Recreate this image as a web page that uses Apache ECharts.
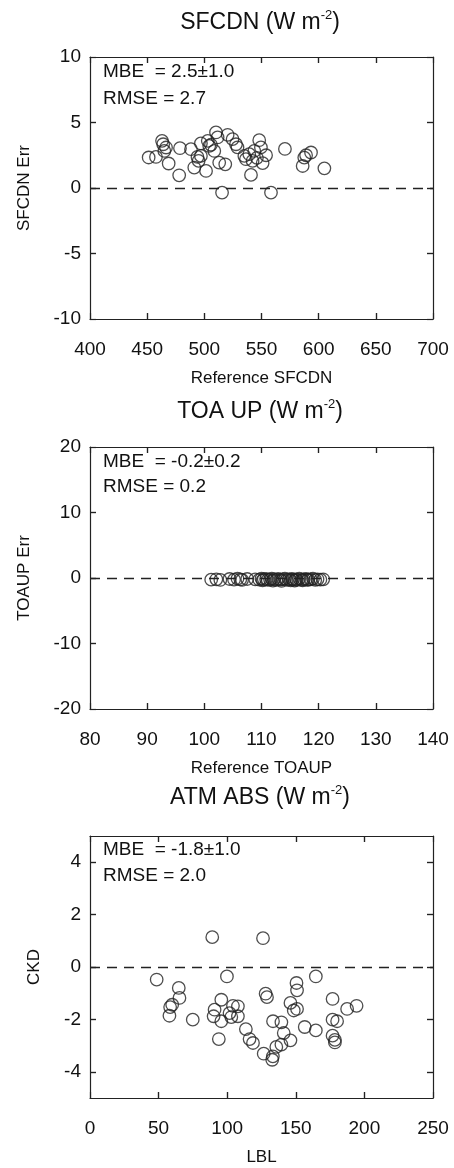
<!DOCTYPE html>
<html>
<head>
<meta charset="utf-8">
<script src="https://cdn.jsdelivr.net/npm/echarts@6/dist/echarts.min.js"></script>
<style>
html,body{margin:0;padding:0;background:#fff;}
#c{width:454px;height:1168px;}
</style>
</head>
<body>
<div id="c"></div>
<script>
// Panel 1: SFCDN
const sfcdnX = [451.3,457.7,463,464,465,466.5,468.8,478.7,478,488.3,491.2,494,495,497,497,501.5,503,504.3,505.8,508.7,510.2,511.6,513,518.3,515.5,520.4,524.7,527.7,529,535,536.4,539.3,540.8,542.2,543.7,546,548,549.5,551,554,558.3,570.5,586,587.4,589,593.3,605];
const sfcdnY = [2.33,2.37,3.6,3.34,2.83,3.09,1.87,3.04,0.97,2.96,1.56,2.37,2.07,2.45,3.4,1.3,3.6,3.21,3.3,2.83,4.24,3.86,1.94,1.81,-0.35,4.06,3.73,3.34,3.1,2.45,2.2,2.58,1.0,2.07,2.83,2.3,3.65,3.1,1.9,2.5,-0.35,2.98,1.68,2.32,2.5,2.71,1.5];
// Panel 2: TOA UP
const toaX = [101.2,102.1,102.8,104.4,105.2,105.8,106.3,106.6,107.5,108.9,109.6,110.0,110.2,110.4,110.8,111.1,111.5,111.8,112.0,112.2,112.6,112.9,113.3,113.5,113.7,114.1,114.4,114.8,115.1,115.3,115.5,115.8,116.0,116.2,116.6,117.0,117.2,117.4,117.8,118.0,118.2,118.6,119.0,119.4,119.8,120.3,120.8];
const toaY = [-0.25,-0.2,-0.3,-0.15,-0.25,-0.1,-0.2,-0.3,-0.15,-0.2,-0.25,-0.1,-0.35,-0.2,-0.15,-0.3,-0.25,-0.1,-0.4,-0.2,-0.3,-0.15,-0.25,-0.45,-0.2,-0.1,-0.3,-0.2,-0.35,-0.15,-0.25,-0.4,-0.2,-0.3,-0.1,-0.25,-0.35,-0.2,-0.15,-0.3,-0.25,-0.2,-0.1,-0.3,-0.2,-0.25,-0.2];
// Panel 3: ATM ABS
const lblX = [89.1,126.1,48.6,99.8,164.6,64.7,65.2,59.9,58.4,57.9,74.9,95.7,90.8,90.1,95.7,101.7,104.2,107.8,103,107.8,93.9,113.6,116.3,118.8,128,129,133.4,139.5,126.6,132.8,133.3,135.8,139.5,141.2,146.1,146.1,150.5,150.9,148.5,150.9,156.5,164.6,176.8,176.8,180.1,176.8,178.5,178.5,187.4,194.3];
const ckdY = [1.14,1.1,-0.48,-0.36,-0.36,-0.8,-1.18,-1.44,-1.53,-1.86,-2.01,-1.25,-1.63,-1.88,-2.07,-1.76,-1.48,-1.5,-1.91,-1.88,-2.75,-2.37,-2.75,-2.9,-1.02,-1.15,-2.07,-2.11,-3.31,-3.54,-3.41,-3.05,-2.96,-2.52,-2.8,-1.37,-0.61,-0.89,-1.66,-1.6,-2.29,-2.42,-1.22,-2.01,-2.07,-2.62,-2.78,-2.88,-1.6,-1.48];

const xTicks1 = [400,700,50], yTicks1 = [-10,10,5];
const xTicks2 = [80,140,10], yTicks2 = [-20,20,10];
const xTicks3 = [0,250,50], yLabels3 = [-4,-2,0,2,4];

const FONT = 'Liberation Sans';
const TXT = '#111';
const AX = '#222';
const TICK_LEN = 6;
const GRID_W = 343, GRID_H = 262;

const panels = [
  {top:57, x:xTicks1, y:yTicks1, xName:'Reference SFCDN', yName:'SFCDN Err', yGap:57,
   title:'SFCDN (W m', tTop:9, mbe:'MBE  = 2.5±1.0', rmse:'RMSE = 2.7', mTop:61, rTop:88,
   xs:sfcdnX, ys:sfcdnY},
  {top:447, x:xTicks2, y:yTicks2, xName:'Reference TOAUP', yName:'TOAUP Err', yGap:57,
   title:'TOA UP (W m', tTop:398, mbe:'MBE  = -0.2±0.2', rmse:'RMSE = 0.2', mTop:451, rTop:476,
   xs:toaX, ys:toaY},
  {top:836, x:xTicks3, y:[-5,5,null], yCustom:yLabels3, xName:'LBL', yName:'CKD', yGap:47,
   title:'ATM ABS (W m', tTop:784, mbe:'MBE  = -1.8±1.0', rmse:'RMSE = 2.0', mTop:839, rTop:865,
   xs:lblX, ys:ckdY}
];

function mkLine(){ return {show:true, onZero:false, lineStyle:{color:AX, width:1.2}}; }
function mkTick(custom){
  const t = {show:true, inside:true, length:TICK_LEN, lineStyle:{color:AX, width:1.2}};
  if (custom) t.customValues = custom;
  return t;
}
function steps(a){ const out=[]; for(let v=a[0]+a[2]; v<a[1]-1e-9; v+=a[2]) out.push(v); return out; }

const grid=[], xAxis=[], yAxis=[], series=[], title=[];
panels.forEach((p,i)=>{
  grid.push({left:90, width:GRID_W, top:p.top, height:GRID_H});
  xAxis.push({type:'value', gridIndex:i, position:'bottom', min:p.x[0], max:p.x[1], interval:p.x[2],
    axisLine:mkLine(), axisTick:mkTick(), splitLine:{show:false},
    axisLabel:{margin:21, color:TXT, fontFamily:FONT, fontSize:19},
    name:p.xName, nameLocation:'middle', nameGap:51,
    nameTextStyle:{color:TXT, fontFamily:FONT, fontSize:17}});
  xAxis.push({type:'value', gridIndex:i, position:'top', min:p.x[0], max:p.x[1], interval:p.x[2],
    axisLine:mkLine(), axisTick:mkTick(), splitLine:{show:false}, axisLabel:{show:false}});
  const yl = {type:'value', gridIndex:i, position:'left', min:p.y[0], max:p.y[1],
    interval: p.yCustom ? 1 : p.y[2],
    axisLine:mkLine(), axisTick:mkTick(p.yCustom), splitLine:{show:false},
    axisLabel:{margin:9, color:TXT, fontFamily:FONT, fontSize:19},
    name:p.yName, nameLocation:'middle', nameGap:p.yGap, nameRotate:90,
    nameTextStyle:{color:TXT, fontFamily:FONT, fontSize:17}};
  if (p.yCustom) yl.axisLabel.customValues = p.yCustom;
  const yr = {type:'value', gridIndex:i, position:'right', min:p.y[0], max:p.y[1],
    interval: p.yCustom ? 1 : p.y[2],
    axisLine:mkLine(), axisTick:mkTick(p.yCustom), splitLine:{show:false}, axisLabel:{show:false}};
  yAxis.push(yl, yr);

  // tick segments expressed in axis units, drawn as mark lines
  const xt = steps(p.x);
  const yt = p.yCustom ? p.yCustom : steps(p.y);
  const dx = TICK_LEN / GRID_W * (p.x[1] - p.x[0]);
  const dy = TICK_LEN / GRID_H * (p.y[1] - p.y[0]);
  const segs = [];
  xt.forEach(v=>{
    segs.push([{coord:[v, p.y[0]]}, {coord:[v, p.y[0] + dy]}]);
    segs.push([{coord:[v, p.y[1]]}, {coord:[v, p.y[1] - dy]}]);
  });
  yt.forEach(v=>{
    segs.push([{coord:[p.x[0], v]}, {coord:[p.x[0] + dx, v]}]);
    segs.push([{coord:[p.x[1], v]}, {coord:[p.x[1] - dx, v]}]);
  });

  series.push({type:'scatter', xAxisIndex:2*i, yAxisIndex:2*i,
    data:p.xs.map((v,k)=>[v,p.ys[k]]),
    symbol:'circle', symbolSize:12.5,
    itemStyle:{color:'rgba(0,0,0,0)', borderColor:'#222', borderWidth:1.3},
    markLine:{symbol:['none','none'], label:{show:false}, silent:true, animation:false,
      lineStyle:{color:'#222', type:[10,7], width:1.3},
      data:[{yAxis:0}]}
  });
  series.push({type:'line', xAxisIndex:2*i, yAxisIndex:2*i, data:[], silent:true,
    markLine:{symbol:['none','none'], label:{show:false}, silent:true, animation:false,
      lineStyle:{color:AX, type:'solid', width:1.2},
      data:segs}
  });

  title.push({text:'{a|'+p.title+'}{s|-2}{a|)}', left:260, top:p.tTop, textAlign:'center', padding:0,
    textStyle:{fontWeight:'normal', rich:{a:{fontFamily:FONT, fontSize:23, lineHeight:28, color:TXT, fontWeight:'normal'},
                     s:{fontFamily:FONT, fontSize:13, lineHeight:13, color:TXT, verticalAlign:'top', fontWeight:'normal'}}}});
  title.push({text:p.mbe, left:103, top:p.mTop, padding:0,
    textStyle:{fontFamily:FONT, fontSize:19, lineHeight:22, color:TXT, fontWeight:'normal'}});
  title.push({text:p.rmse, left:103, top:p.rTop, padding:0,
    textStyle:{fontFamily:FONT, fontSize:19, lineHeight:22, color:TXT, fontWeight:'normal'}});
});

const chart = echarts.init(document.getElementById('c'));
chart.setOption({animation:false, backgroundColor:'#fff', grid, xAxis, yAxis, series, title});
</script>
</body>
</html>
